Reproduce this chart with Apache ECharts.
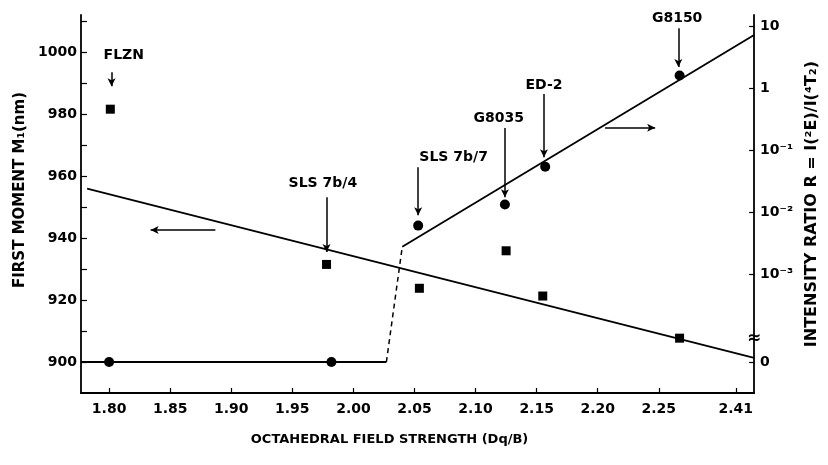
<!DOCTYPE html>
<html>
<head>
<meta charset="utf-8">
<script src="https://cdn.jsdelivr.net/npm/echarts@6/dist/echarts.min.js"></script>
<style>
	html, body { margin: 0; padding: 0; background: #fff; }
	#chart { width: 828px; height: 465px; }
</style>
</head>
<body>
<div id="chart"></div>
<script>
// x axis: octahedral field strength (the last tick is printed as 2.41)
var xTickValues = [1.80, 1.85, 1.90, 1.95, 2.00, 2.05, 2.10, 2.15, 2.20, 2.25, 2.313];
var xTickLabels = ['1.80', '1.85', '1.90', '1.95', '2.00', '2.05', '2.10', '2.15', '2.20', '2.25', '2.41'];

// left axis: first moment (nm)
var momentTicks = [900, 910, 920, 930, 940, 950, 960, 970, 980, 990, 1000, 1010];
var momentLabels = [900, 920, 940, 960, 980, 1000];

// right axis: intensity ratio, stored as log10(R); "0" sits below the break
var RATIO_ZERO = -4.42;
var ratioTicks = [RATIO_ZERO, -3, -2, -1, 0, 1];
var ratioLabels = ['0', '10⁻³', '10⁻²', '10⁻¹', '1', '10'];

// squares: first moment
var momentX = [1.801, 1.978, 2.054, 2.125, 2.155, 2.267];
var momentY = [981.6, 931.5, 923.8, 935.9, 921.3, 907.7];

// circles: intensity ratio (log10 R)
var ratioX = [1.800, 1.982, 2.053, 2.124, 2.157, 2.267];
var ratioY = [RATIO_ZERO, RATIO_ZERO, -2.22, -1.88, -1.27, 0.20];

// fitted lines
var momentFit = [[1.782, 956.0], [2.328, 901.3]];
var ratioLow = [[1.777, RATIO_ZERO], [2.027, RATIO_ZERO]];
var ratioJump = [[2.027, RATIO_ZERO], [2.040, -2.56]];
var ratioFit = [[2.040, -2.56], [2.328, 0.855]];

// sample labels with arrows (first moment units)
var sampleNames = ['FLZN', 'SLS 7b/4', 'SLS 7b/7', 'G8035', 'ED-2', 'G8150'];
var sampleTextX = [1.812, 1.975, 2.082, 2.119, 2.156, 2.265];
var sampleTextY = [999.0, 957.7, 966.1, 978.7, 989.4, 1011.0];
var sampleArrowX = [1.802, 1.978, 2.053, 2.124, 2.156, 2.266];
var sampleArrowTop = [993.5, 953.2, 962.9, 975.5, 986.5, 1007.7];
var sampleArrowTip = [989.0, 935.5, 947.4, 953.2, 966.1, 995.2];

// axis-pointing arrows: [x from, x to, level]
var leftArrow = [1.887, 1.834, 942.6];
var rightArrow = [2.206, 2.247, 975.6];

var FONT = 'DejaVu Sans';

function zip(xs, ys) {
	return xs.map(function (x, i) { return [x, ys[i]]; });
}

function pick(values, labels) {
	return function (v) {
		for (var i = 0; i < values.length; i++) {
			if (Math.abs(values[i] - v) < 1e-6) return labels[i];
		}
		return '';
	};
}

var arrowLines = sampleArrowX.map(function (x, i) {
	return [{ coord: [x, sampleArrowTop[i]] }, { coord: [x, sampleArrowTip[i]] }];
});
arrowLines.push([{ coord: [leftArrow[0], leftArrow[2]] }, { coord: [leftArrow[1], leftArrow[2]] }]);
arrowLines.push([{ coord: [rightArrow[0], rightArrow[2]] }, { coord: [rightArrow[1], rightArrow[2]] }]);

var lineStyle = { color: '#000', width: 1.8 };
var tickFont = { color: '#000', fontFamily: FONT, fontWeight: 'bold', fontSize: 14 };

var option = {
	animation: false,
	backgroundColor: '#fff',
	grid: { left: 81, right: 73, top: 15, bottom: 72 },
	xAxis: {
		type: 'value',
		min: 1.777,
		max: 2.328,
		name: 'OCTAHEDRAL FIELD STRENGTH (Dq/B)',
		nameLocation: 'middle',
		nameGap: 40,
		nameTextStyle: { color: '#000', fontFamily: FONT, fontWeight: 'bold', fontSize: 13, padding: [0, 56, 0, 0] },
		axisLine: { onZero: false, lineStyle: { color: '#000', width: 1.8 } },
		axisTick: { inside: true, length: 5, lineStyle: { color: '#000', width: 1.2 }, customValues: xTickValues },
		axisLabel: Object.assign({ customValues: xTickValues, margin: 9, formatter: pick(xTickValues, xTickLabels) }, tickFont),
		splitLine: { show: false }
	},
	yAxis: [{
		type: 'value',
		min: 890,
		max: 1012,
		position: 'left',
		name: 'FIRST MOMENT M₁(nm)',
		nameLocation: 'middle',
		nameGap: 29,
		nameTextStyle: { color: '#000', fontFamily: FONT, fontWeight: 'bold', fontSize: 15, padding: [0, 0, 0, 28] },
		axisLine: { show: true, onZero: false, lineStyle: { color: '#000', width: 1.8 } },
		axisTick: { inside: true, length: 6, lineStyle: { color: '#000', width: 1.2 }, customValues: momentTicks },
		axisLabel: Object.assign({ customValues: momentLabels, margin: 4, formatter: function (v) { return String(v); } }, tickFont),
		splitLine: { show: false }
	}, {
		type: 'value',
		min: -4.92,
		max: 1.177,
		position: 'right',
		name: 'INTENSITY RATIO R = I(²E)/I(⁴T₂)',
		nameLocation: 'middle',
		nameGap: 48,
		nameTextStyle: { color: '#000', fontFamily: FONT, fontWeight: 'bold', fontSize: 16 },
		axisLine: { show: true, onZero: false, lineStyle: { color: '#000', width: 1.8 } },
		axisTick: { inside: true, length: 5, lineStyle: { color: '#000', width: 1.2 }, customValues: ratioTicks },
		axisLabel: Object.assign({ customValues: ratioTicks, margin: 6, formatter: pick(ratioTicks, ratioLabels) }, tickFont),
		splitLine: { show: false }
	}],
	series: [{
		type: 'line', yAxisIndex: 0, data: momentFit, symbol: 'none', lineStyle: lineStyle, z: 2
	}, {
		type: 'line', yAxisIndex: 1, data: ratioLow, symbol: 'none', lineStyle: lineStyle, z: 2
	}, {
		type: 'line', yAxisIndex: 1, data: ratioJump, symbol: 'none',
		lineStyle: { color: '#000', width: 1.5, type: [5, 4] }, z: 2
	}, {
		type: 'line', yAxisIndex: 1, data: ratioFit, symbol: 'none', lineStyle: lineStyle, z: 2
	}, {
		type: 'scatter', yAxisIndex: 0, data: zip(momentX, momentY),
		symbol: 'rect', symbolSize: 9, itemStyle: { color: '#000', opacity: 1 }, z: 3
	}, {
		type: 'scatter', yAxisIndex: 1, data: zip(ratioX, ratioY),
		symbol: 'circle', symbolSize: 10, itemStyle: { color: '#000', opacity: 1 }, z: 3
	}, {
		type: 'scatter', yAxisIndex: 0, silent: true,
		data: sampleNames.map(function (n, i) { return [sampleTextX[i], sampleTextY[i], n]; }),
		symbolSize: 0,
		itemStyle: { opacity: 1 },
		label: Object.assign({
			show: true, position: 'inside',
			formatter: function (p) { return p.data[2]; }
		}, tickFont),
		markLine: {
			silent: true,
			symbol: ['none', 'arrow'],
			symbolSize: [6, 8],
			label: { show: false },
			lineStyle: { color: '#000', width: 1.5, type: 'solid', opacity: 1 },
			data: arrowLines
		}
	}, {
		type: 'scatter', yAxisIndex: 1, silent: true,
		data: [[2.328, -4.05]],
		symbolSize: 0,
		itemStyle: { opacity: 1 },
		label: { show: true, position: 'inside', formatter: '≈', color: '#000', fontFamily: FONT, fontWeight: 'bold', fontSize: 17 }
	}]
};

var myChart = echarts.init(document.getElementById('chart'));
myChart.setOption(option);
</script>
</body>
</html>
